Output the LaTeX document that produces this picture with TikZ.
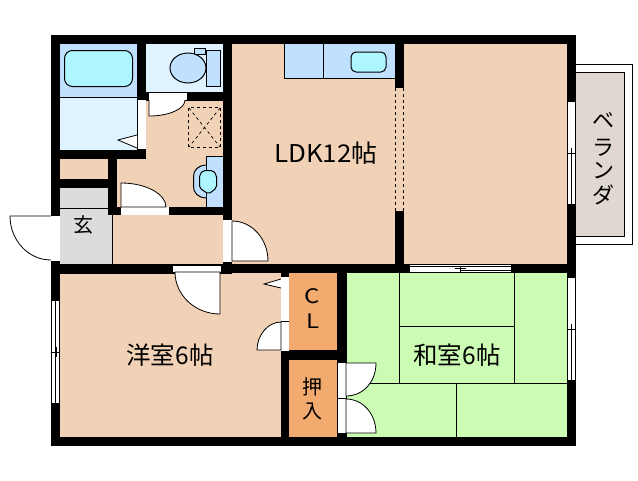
\documentclass[tikz,border=0pt]{standalone}
\usepackage{fontspec}
\setmainfont{Noto Sans CJK JP}
\definecolor{peach}{HTML}{F2D2B6}
\definecolor{palebl}{HTML}{DFF2FF}
\definecolor{midbl}{HTML}{BFE0FF}
\definecolor{aqua}{HTML}{ADF6FF}
\definecolor{matgreen}{HTML}{CCFCB4}
\definecolor{closet}{HTML}{F2AA6E}
\definecolor{entry}{HTML}{DCDCDE}
\definecolor{veranda}{HTML}{E0D8D0}
\tikzset{
  room/.style={fill=#1,draw=none},
  wall/.style={fill=black,draw=none},
  slot/.style={fill=white,draw=none},
  thin line/.style={draw=black,line width=1pt},
  fixture/.style={draw=black,line width=1pt,fill=#1},
  doorleaf/.style={draw=black,line width=0.8pt,fill=white},
  label/.style={inner sep=0pt,text=black,font=\fontsize{20}{22}\selectfont},
  katalabel/.style={inner sep=0pt,text=black,font=\fontsize{22}{24}\selectfont},
  roomlabel/.style={inner sep=0pt,text=black,font=\fontsize{24.5}{26}\selectfont}
}
\begin{document}
\begin{tikzpicture}[x=1pt,y=-1pt]
\useasboundingbox (0,0) rectangle (638,480);
\fill[white] (0,0) rectangle (638,480);
% veranda
\draw[thin line,fill=white] (570,64.5) rectangle (632.5,244);
\draw[thin line,fill=veranda] (570,72.5) rectangle (624,236);
% rooms
\path[room=peach] (51,35) rectangle (576,445);
\path[room=matgreen] (346,270) rectangle (570,440);
\path[room=closet] (285,270) rectangle (340,440);
\path[room=entry] (60,188) rectangle (112.5,264);
\path[room=palebl] (60,44) rectangle (137,150);
\path[room=midbl] (60,44) rectangle (137,97);
\path[room=palebl] (146,44) rectangle (223,92);
\draw[thin line] (60,97) -- (137,97);
\draw[thin line] (60,208.5) -- (108,208.5);
\draw[thin line] (112.5,215) -- (112.5,264);
% tatami
\draw[thin line] (399,273) -- (399,383);
\draw[thin line] (514,273) -- (514,383);
\draw[thin line] (399,326) -- (514,326);
\draw[thin line] (346,383) -- (567,383);
\draw[thin line] (456.5,383) -- (456.5,437);
% kitchen
\path[fixture=midbl] (284,40) -- (284,78) -- (396,78) -- (396,40) -- cycle;
\draw[thin line] (323,44) -- (323,78);
\draw[fixture=aqua,rounded corners=5pt] (351,52) rectangle (386,72);
% bath
\draw[fixture=aqua,rounded corners=8pt] (64.5,50.5) rectangle (132.5,86.5);
% toilet
\draw[fixture=midbl] (194.5,48.5) rectangle (205,54.5);
\draw[fixture=midbl] (188,68) ellipse [x radius=18,y radius=15];
\draw[fixture=midbl] (206,50.5) rectangle (220.5,86);
% washbasin
\path[fill=midbl,draw=black,line width=1pt] (223,156.5) -- (206,156.5) -- (206,207) -- (223,207);
\draw[fixture=midbl] (206,165) .. controls (199,165) and (193,170) .. (193.5,177) -- (193.5,186) .. controls (193,193) and (199,198) .. (206,198);
\draw[fixture=aqua,rounded corners=2pt] (203,170.5) -- (213,170.5) -- (216.5,175) -- (216.5,188) -- (208.5,194) -- (199.5,188) -- (199.5,175) -- cycle;
% floor drain dashed box
\draw[black,line width=0.9pt,dashed] (188.5,107.5) rectangle (220.5,147);
\draw[black,line width=0.7pt,dashed] (189,108) -- (220,147) (220,108) -- (189,147);
% walls
\path[wall] (51,35) rectangle (576,44);
\path[wall] (51,437) rectangle (576,445.5);
\path[wall] (51,35) rectangle (60,445.5);
\path[wall] (567,35) rectangle (576,445.5);
\path[wall] (137,44) rectangle (146,159);
\path[wall] (51,150) rectangle (146,159);
\path[wall] (146,92) rectangle (223,100.5);
\path[wall] (223,35) rectangle (232,272);
\path[wall] (51,179) rectangle (108,188);
\path[wall] (108,150) rectangle (117,215);
\path[wall] (108,207) rectangle (232,215);
\path[wall] (51,264) rectangle (232,274);
\path[wall] (222,264) rectangle (576,273);
\path[wall] (281,265) rectangle (289,445);
\path[wall] (337,265) rectangle (346.5,360);
\path[wall] (281,350) rectangle (346.5,360);
\path[wall] (337,360) rectangle (346.5,445);
\path[wall] (395,35) rectangle (404,88);
\path[wall] (395,211) rectangle (404,273);
% dashed partition
\path[room=peach] (395,88) rectangle (404,211);
\draw[black,line width=1pt,dashed] (395.5,88) -- (395.5,211);
\draw[black,line width=1pt,dashed] (403.5,88) -- (403.5,211);
% openings
\path[slot] (138,100) rectangle (146,149);
\path[slot] (149,93) rectangle (187,100);
\path[slot] (121,207) rectangle (169,215);
\path[slot] (51,216) rectangle (60,261);
\path[slot] (223,220) rectangle (232,262);
\path[slot] (173,266) rectangle (221,272);
\path[slot] (281,277) rectangle (289,351);
\path[slot] (337.5,363) rectangle (346,433);
\path[slot] (567,102) rectangle (576,204);
\path[slot] (567,278) rectangle (576,380);
\path[slot] (51,301) rectangle (60,403);
\path[slot] (410,265) rectangle (511,273);
% doors
\draw[doorleaf] (149,100) -- (149,116) .. controls (169,116) and (185,109) .. (185,100);
\draw[doorleaf] (121,207) -- (121,183) .. controls (146,183) and (166,194) .. (166,207) -- cycle;
\draw[doorleaf] (51,216) -- (10,216) .. controls (10,240) and (28,260) .. (51,260);
\draw[doorleaf] (232,261) -- (232,221) .. controls (252,221) and (268,239) .. (268,261) -- cycle;
\draw[doorleaf] (220,272) -- (175,272) .. controls (175,295) and (195,314) .. (220,314) -- cycle;
\draw[doorleaf] (281,350) -- (281,322) .. controls (268,322) and (257,335) .. (257,350) -- cycle;
\draw[doorleaf] (346,363) -- (376,363) .. controls (376,382) and (363,396) .. (346,396) -- cycle;
\draw[doorleaf] (346,433) -- (346,399) .. controls (363,399) and (376,414) .. (376,433) -- cycle;
\draw[doorleaf] (137,135) -- (118,140) -- (137,148);
\draw[doorleaf] (281,279) -- (264,284) -- (281,288);
% door slot edges
\draw[black,line width=0.8pt] (281,321) -- (289,321);
\draw[black,line width=0.8pt] (337.5,398) -- (346,398);
% windows
\draw[black,line width=1pt] (51.5,301) -- (51.5,403) (55,301) -- (55,403) (59,301) -- (59,403);
\draw[black,line width=1pt] (52,352) -- (59,352) (56,347) -- (56,357);
\draw[black,line width=1pt] (567.5,102) -- (567.5,204) (571,153) -- (571,204) (575.5,102) -- (575.5,204);
\draw[black,line width=1pt] (568,153) -- (575,153) (571,148) -- (571,158);
\draw[black,line width=1pt] (567.5,278) -- (567.5,380) (571,329) -- (571,380) (575.5,278) -- (575.5,380);
\draw[black,line width=1pt] (568,329) -- (575,329) (571,324) -- (571,334);
\draw[black,line width=1pt] (410,266) -- (511,266) (460,270) -- (511,270) (410,272.5) -- (511,272.5);
\draw[black,line width=1pt] (460,266) -- (460,272) (455,268) -- (466,268);
% labels
\node[roomlabel,xscale=1.06] (ldk) at (326,153) {LDK12帖};
\node[roomlabel] (yo) at (170,355) {洋室6帖};
\node[roomlabel] (wa) at (457,355) {和室6帖};
\node[label] (gen) at (83,225) {玄};
\node[label,xscale=1.2] (c) at (312.5,296) {C};
\node[label,xscale=1.2] (l) at (313,321) {L};
\node[label] (osu) at (312,386.5) {押};
\node[label] (iri) at (312,411) {入};
\node[katalabel] (be) at (603,120) {ベ};
\node[katalabel] (ra) at (603,148) {ラ};
\node[katalabel] (n) at (603,171) {ン};
\node[katalabel] (da) at (603,195) {ダ};
\end{tikzpicture}
\end{document}
